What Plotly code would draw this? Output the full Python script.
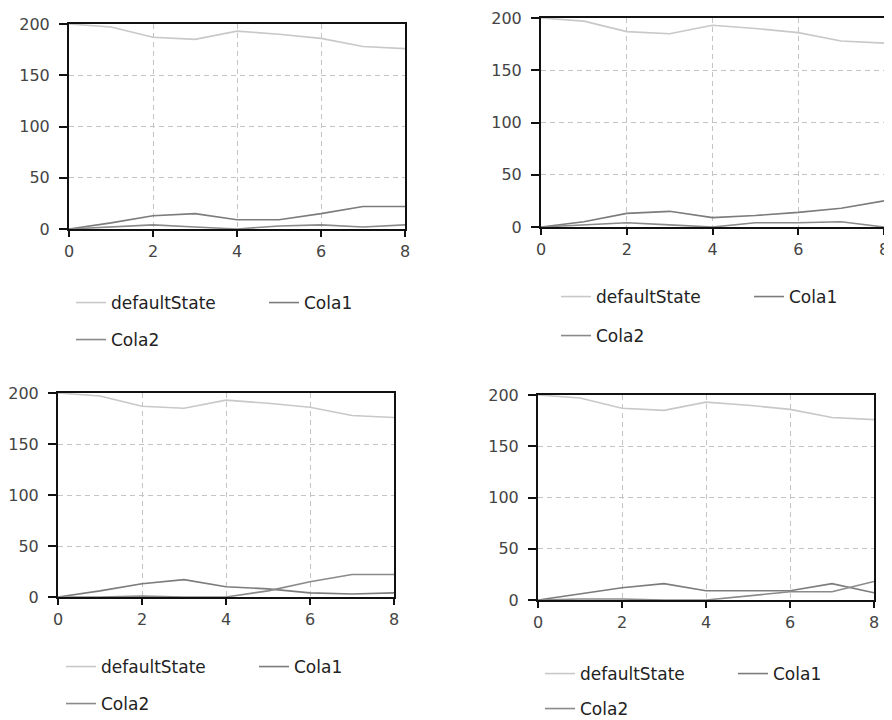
import plotly.graph_objects as go

# ---------------- data ----------------
steps = [0, 1, 2, 3, 4, 5, 6, 7, 8]
series_names = ["defaultState", "Cola1", "Cola2"]

default_state = [200, 197, 187, 185, 193, 190, 186, 178, 176]

cola1_p1 = [0, 6, 13, 15, 9, 9, 15, 22, 22]
cola2_p1 = [0, 2, 4, 2, 0, 3, 4, 2, 4]

cola1_p2 = [0, 5, 13, 15, 9, 11, 14, 18, 25]
cola2_p2 = [0, 2, 4, 2, 0, 4, 4, 5, 0]

cola1_p3 = [0, 6, 13, 17, 10, 8, 4, 3, 4]
cola2_p3 = [0, 0, 1, 0, 0, 6, 15, 22, 22]

cola1_p4 = [0, 6, 12, 16, 9, 9, 9, 16, 7]
cola2_p4 = [0, 1, 1, 0, 0, 4, 8, 8, 18]

x_ticks = [0, 2, 4, 6, 8]
y_ticks = [0, 50, 100, 150, 200]

panels = [
    (default_state, cola1_p1, cola2_p1),
    (default_state, cola1_p2, cola2_p2),
    (default_state, cola1_p3, cola2_p3),
    (default_state, cola1_p4, cola2_p4),
]

# ---------------- layout geometry (page pixels) ----------------
PAGE_W, PAGE_H = 892, 720
OFF = 8  # default page body margin
W, H = PAGE_W - OFF, PAGE_H - OFF
# plot rectangles in page pixels: (left, right, top, bottom)
rects = [(69, 405, 24, 229), (541, 884, 18, 227), (58, 394, 393, 597), (538, 874, 395, 600)]
# legend anchors: (x of first line, y of first row centre, y of second row centre)
legpos = [(78, 303, 340), (563, 297, 336), (68, 667, 704), (547, 674, 709)]


def fx(px):
    return (px - OFF) / W


def fy(py):
    return 1 - (py - OFF) / H


colors = ["#c8c8c8", "#7c7c7c", "#8a8a8a"]
FONT = "DejaVu Sans"

fig = go.Figure()
layout = dict(
    width=W, height=H,
    margin=dict(l=0, r=0, t=0, b=0, autoexpand=False),
    paper_bgcolor="white", plot_bgcolor="white",
    template="none",
    font=dict(family=FONT, size=16, color="#222"),
    showlegend=True,
)

for i, (ds, c1, c2) in enumerate(panels):
    sfx = "" if i == 0 else str(i + 1)
    xa, ya = "x" + sfx, "y" + sfx
    lega = "legend" if i == 0 else f"legend{2 * i + 1}"
    legb = f"legend{2 * i + 2}"
    for name, vals, col, lg in zip(series_names, (ds, c1, c2), colors, (lega, lega, legb)):
        fig.add_trace(go.Scatter(
            x=steps, y=vals, mode="lines", name=name,
            line=dict(color=col, width=1.6),
            xaxis=xa, yaxis=ya, legend=lg,
        ))
    l, r, t, b = rects[i]
    axcommon = dict(
        showline=True, linecolor="#111", linewidth=2, mirror=True,
        ticks="outside", tickwidth=1.5, tickcolor="#111",
        showgrid=True, gridcolor="#c4c4c4", gridwidth=1, griddash="5px,4px",
        zeroline=False, automargin=False,
        tickfont=dict(family=FONT, size=16, color="#444"),
    )
    layout["xaxis" + sfx] = dict(
        domain=[fx(l), fx(r)], range=[0, 8], tickvals=x_ticks,
        anchor=ya, ticklen=6, ticklabelstandoff=1, **axcommon)
    layout["yaxis" + sfx] = dict(
        domain=[fy(b), fy(t)], range=[0, 200], tickvals=y_ticks,
        anchor=xa, ticklen=8, ticklabelstandoff=6, **axcommon)

    lx, ly1, ly2 = legpos[i]
    legcommon = dict(
        orientation="h", xanchor="left", yanchor="middle",
        xref="container", yref="container",
        bgcolor="rgba(0,0,0,0)", borderwidth=0,
        font=dict(family=FONT, size=17, color="#222"),
        itemclick=False, itemdoubleclick=False,
    )
    layout[lega] = dict(x=fx(lx - 7), y=fy(ly1), entrywidth=148, **legcommon)
    layout[legb] = dict(x=fx(lx - 7), y=fy(ly2), **legcommon)

fig.update_layout(**layout)
fig.write_html("out.html")
